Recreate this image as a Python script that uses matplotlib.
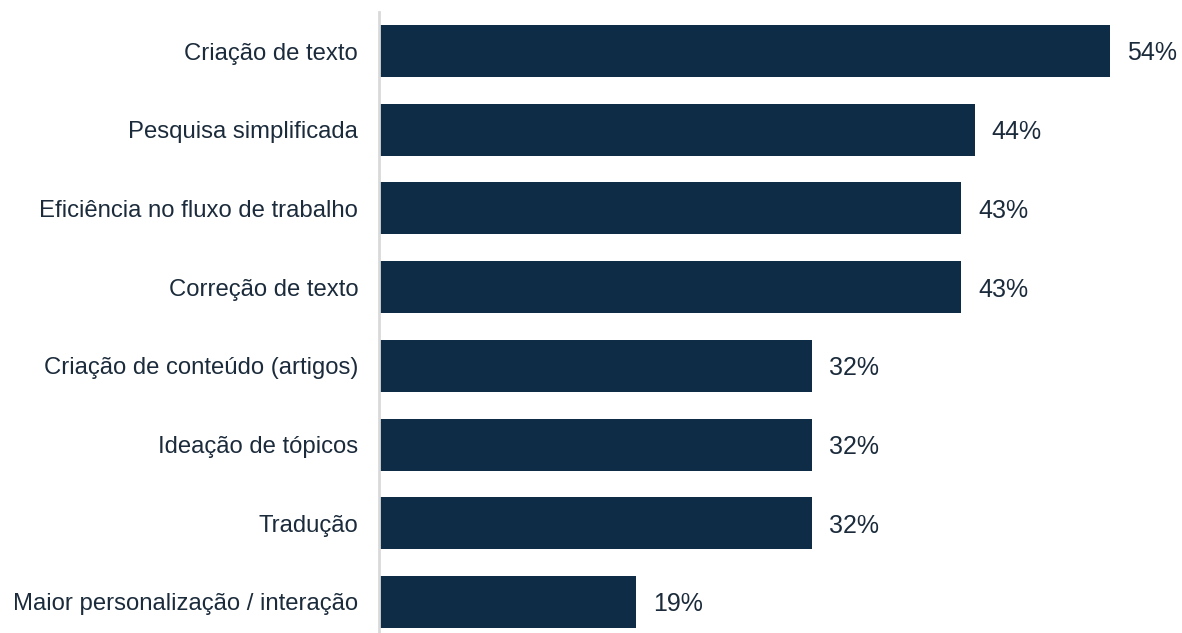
import matplotlib.pyplot as plt
import numpy as np

# Categories and percentages
categories = [
    'Criação de texto',
    'Pesquisa simplificada',
    'Eficiência no fluxo de trabalho',
    'Correção de texto',
    'Criação de conteúdo (artigos)',
    'Ideação de tópicos',
    'Tradução',
    'Maior personalização / interação',
]
values = [54, 44, 43, 43, 32, 32, 32, 19]

bar_color = '#0f2c47'
text_color = '#1b2b3b'

plt.rcParams['font.family'] = ['Liberation Sans', 'DejaVu Sans']

fig = plt.figure(figsize=(11.82, 6.33), dpi=100)
ax = fig.add_axes([379 / 1182, 0.0, 1 - 379 / 1182, 1 - 12 / 633])

y = np.arange(len(categories))
ax.barh(y, values, height=0.66, color=bar_color)

# Value labels next to each bar
for yi, v in zip(y, values):
    ax.text(v + 1.25, yi + 0.03, f'{v}%', va='center', ha='left',
            fontsize=18, color=text_color)

ax.set_xlim(0, 59.3)
ax.set_ylim(7.394, -0.496)
ax.set_yticks(y)
ax.set_yticklabels(categories, fontsize=17.2, color=text_color)
ax.tick_params(axis='y', length=0, pad=15)
ax.set_xticks([])

for side in ['top', 'right', 'bottom']:
    ax.spines[side].set_visible(False)
ax.spines['left'].set_color('#d9d9d9')
ax.spines['left'].set_linewidth(2)

fig.savefig('out.png', dpi=100)
